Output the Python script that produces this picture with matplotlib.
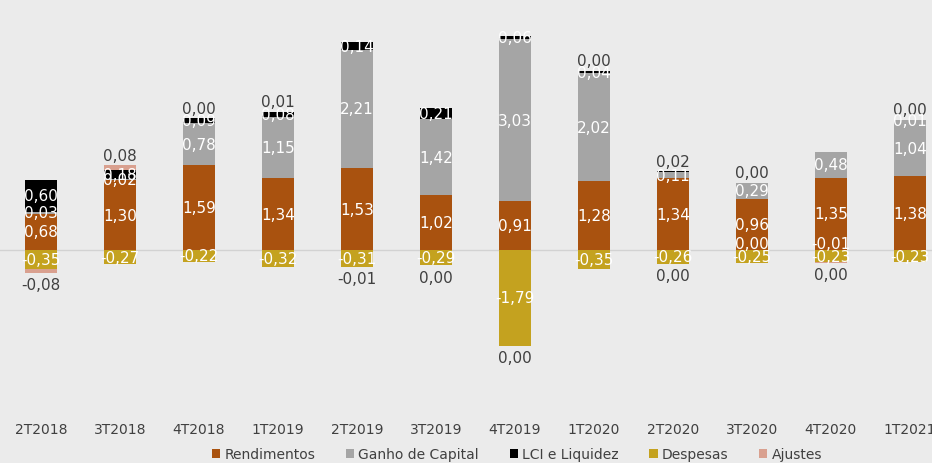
import matplotlib
matplotlib.use("Agg")
import matplotlib.pyplot as plt
from matplotlib.patches import Patch
import numpy as np

categories = ['2T2018', '3T2018', '4T2018', '1T2019', '2T2019', '3T2019',
              '4T2019', '1T2020', '2T2020', '3T2020', '4T2020', '1T2021']
rendimentos = [0.68, 1.30, 1.59, 1.34, 1.53, 1.02, 0.91, 1.28, 1.34, 0.96, 1.35, 1.38]
ganho_capital = [0.03, 0.02, 0.78, 1.15, 2.21, 1.42, 3.03, 2.02, 0.11, 0.29, 0.48, 1.04]
lci_liquidez = [0.60, 0.18, 0.09, 0.08, 0.14, 0.21, 0.06, 0.04, 0.02, 0.00, 0.00, 0.01]
despesas = [-0.35, -0.27, -0.22, -0.32, -0.31, -0.29, -1.79, -0.35, -0.26, -0.25, -0.23, -0.23]
ajustes = [-0.08, 0.08, 0.00, 0.01, -0.01, 0.00, 0.00, 0.00, 0.00, 0.00, -0.01, 0.00]

# labels drawn inside segments (None = no label)
ganho_labels = ['0,03', '0,02', '0,78', '1,15', '2,21', '1,42', '3,03', '2,02', '0,11', '0,29', '0,48', '1,04']
lci_labels = ['0,60', '0,18', '0,09', '0,08', '0,14', '0,21', '0,06', '0,04', None, None, None, '0,01']
ajustes_inner_labels = [None, None, None, None, None, None, None, None, None, '0,00', '-0,01', None]
# labels drawn outside the stacks
top_labels = [None, '0,08', '0,00', '0,01', None, None, None, '0,00', '0,02', '0,00', None, '0,00']
bottom_labels = ['-0,08', None, None, None, '-0,01', '0,00', '0,00', None, '0,00', None, '0,00', None]

series_names = ['Rendimentos', 'Ganho de Capital', 'LCI e Liquidez', 'Despesas', 'Ajustes']
colors = ['#A9520F', '#A5A5A5', '#000000', '#C4A21F', '#D9A08F']

def fmt(v):
    return f"{v:.2f}".replace('.', ',')

bg = '#EBEBEB'
fig = plt.figure(figsize=(9.32, 4.64), dpi=100, facecolor=bg)
ax = fig.add_axes([0, 49/464, 1, 415/464])
ax.set_facecolor(bg)

x = np.arange(len(categories))
w = 0.41
rend = np.array(rendimentos)
gan = np.array(ganho_capital)
lci = np.array(lci_liquidez)
desp = np.array(despesas)
aj = np.array(ajustes)

ax.axhline(0, color='#D2D2D2', lw=1, zorder=1)

pos_aj = np.where(aj > 0, aj, 0)
neg_aj = np.where(aj < 0, aj, 0)

ax.bar(x, rend, w, color=colors[0], zorder=2)
ax.bar(x, gan, w, bottom=rend, color=colors[1], zorder=2)
ax.bar(x, lci, w, bottom=rend + gan, color=colors[2], zorder=2)
ax.bar(x, pos_aj, w, bottom=rend + gan + lci, color=colors[4], zorder=2)
ax.bar(x, desp, w, color=colors[3], zorder=2)
ax.bar(x, neg_aj, w, bottom=desp, color=colors[4], zorder=2)

lab_kw = dict(ha='center', va='center', color='white', fontsize=11,
              fontweight='medium', zorder=5)
for i in range(len(categories)):
    ax.text(x[i], rend[i] / 2, fmt(rend[i]), **lab_kw)
    if ganho_labels[i]:
        ax.text(x[i], rend[i] + gan[i] / 2, ganho_labels[i], **lab_kw)
    if lci_labels[i]:
        ax.text(x[i], rend[i] + gan[i] + lci[i] / 2, lci_labels[i], **lab_kw)
    ax.text(x[i], desp[i] / 2, fmt(desp[i]), **lab_kw)
    if ajustes_inner_labels[i]:
        ax.text(x[i], 0.13, ajustes_inner_labels[i], **lab_kw)
    top = rend[i] + gan[i] + lci[i] + pos_aj[i]
    bot = desp[i] + neg_aj[i]
    if top_labels[i]:
        ax.annotate(top_labels[i], (x[i], top), xytext=(0, 2), textcoords='offset points',
                    ha='center', va='bottom', color='#404040', fontsize=11)
    if bottom_labels[i]:
        ax.annotate(bottom_labels[i], (x[i], bot), xytext=(0, -3), textcoords='offset points',
                    ha='center', va='top', color='#404040', fontsize=11)

ax.set_xlim(-0.52, 11.28)
ax.set_ylim(-3.065, 4.69)
ax.set_xticks(x)
ax.set_xticklabels(categories, fontsize=10, color='#404040')
ax.tick_params(axis='x', length=0, pad=6)
ax.set_yticks([])
for s in ax.spines.values():
    s.set_visible(False)

handles = [Patch(facecolor=c, label=n) for c, n in zip(colors, series_names)]
fig.legend(handles=handles, loc='center', bbox_to_anchor=(517/932, 1 - 455/464),
           ncol=5, frameon=False, fontsize=10, handlelength=0.6, handleheight=0.6,
           handletextpad=0.3, columnspacing=2.2, labelcolor='#404040')

fig.savefig('out.png', dpi=100, facecolor=bg)
